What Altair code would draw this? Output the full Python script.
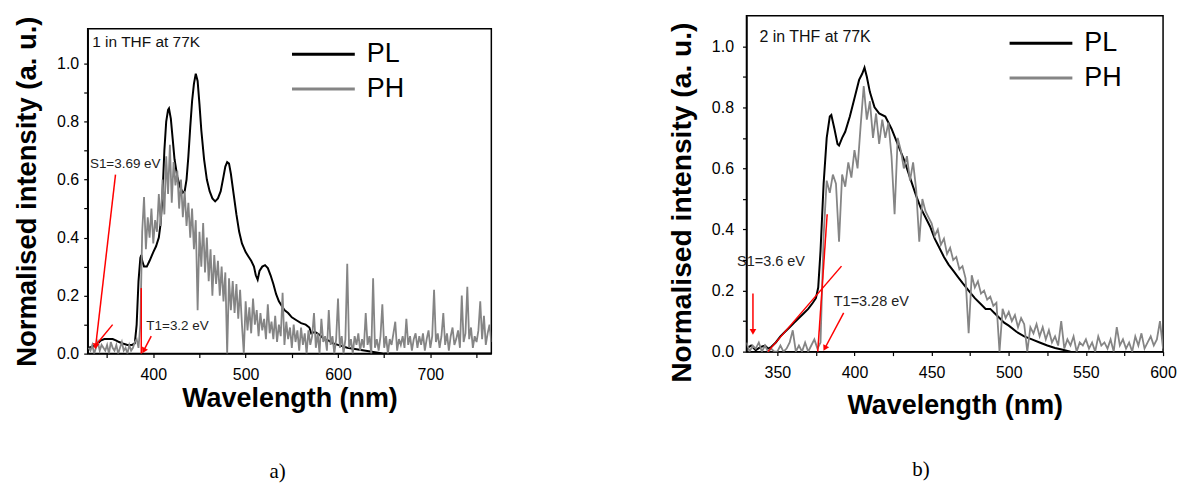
import math
import altair as alt
import pandas as pd

FONT = "Liberation Sans"

# ---------------- Panel a) : 1 in THF at 77K ----------------
A_PL_NM = [330, 335, 340, 343, 347, 352, 356, 360, 363, 367, 372, 377, 380, 382, 384, 386, 387, 388,
           390, 393, 396, 400, 403, 406, 408, 410, 412, 414, 416, 417, 419, 421, 423, 426, 429, 432,
           434, 436, 438, 440, 442, 444, 446, 448, 450, 452, 455, 458, 461, 464, 467, 470, 473, 476,
           478, 480, 482, 484, 487, 490, 493, 496, 500, 503, 506, 509, 511, 513, 515, 518, 521, 524,
           527, 530, 533, 536, 539, 542, 546, 550, 555, 560, 565, 569, 571, 575, 580, 585, 590, 595,
           600, 610, 620, 630, 640, 650, 700, 766]
A_PL_I = [0.02, 0.025, 0.035, 0.045, 0.05, 0.05, 0.05, 0.045, 0.04, 0.035, 0.03, 0.03, 0.035, 0.10,
          0.25, 0.33, 0.34, 0.32, 0.30, 0.30, 0.32, 0.35, 0.37, 0.40, 0.45, 0.55, 0.70, 0.80, 0.84,
          0.845, 0.81, 0.74, 0.67, 0.61, 0.575, 0.555, 0.56, 0.60, 0.68, 0.78, 0.87, 0.93, 0.965, 0.94,
          0.86, 0.77, 0.67, 0.60, 0.56, 0.535, 0.525, 0.535, 0.56, 0.61, 0.645, 0.66, 0.655, 0.62,
          0.55, 0.48, 0.42, 0.38, 0.35, 0.335, 0.32, 0.30, 0.27, 0.255, 0.285, 0.30, 0.305, 0.295,
          0.27, 0.24, 0.205, 0.18, 0.165, 0.15, 0.14, 0.125, 0.115, 0.105, 0.10, 0.09, 0.07, 0.075,
          0.065, 0.05, 0.045, 0.035, 0.03, 0.02, 0.015, 0.01, 0.005, 0.0, 0.0, 0.0]

A_PH_NM = list(range(330, 767, 2))
A_PH_I = [
    0.02, 0.01, 0.03, 0.0, 0.02, 0.04, 0.01, 0.03, 0.02, 0.01,
    0.03, 0.0, 0.04, 0.02, 0.01, 0.03, 0.0, 0.02, 0.04, 0.01,
    0.02, 0.0, 0.03, 0.01, 0.02, 0.04, 0.05, 0.02, 0.10, 0.42,
    0.54, 0.36, 0.47, 0.40, 0.50, 0.38, 0.46, 0.42, 0.55, 0.44,
    0.60, 0.48, 0.68, 0.55, 0.72, 0.52, 0.66, 0.58, 0.63, 0.50,
    0.60, 0.47, 0.56, 0.44, 0.52, 0.40, 0.50, 0.36, 0.46, 0.15,
    0.42, 0.30, 0.45, 0.28, 0.40, 0.25, 0.36, 0.20, 0.34, 0.24,
    0.32, 0.20, 0.30, 0.18, 0.28, 0.0, 0.26, 0.15, 0.25, 0.14,
    0.24, 0.12, 0.22, 0.10, 0.0, 0.18, 0.08, 0.16, 0.07, 0.19,
    0.10, 0.15, 0.06, 0.14, 0.08, 0.12, 0.05, 0.17, 0.07, 0.11,
    0.05, 0.13, 0.04, 0.10, 0.06, 0.21, 0.03, 0.11, 0.05, 0.09,
    0.02, 0.10, 0.04, 0.08, 0.01, 0.09, 0.03, 0.07, 0.0, 0.08,
    0.03, 0.06, 0.14, 0.02, 0.07, 0.0, 0.12, 0.04, 0.06, 0.01,
    0.15, 0.03, 0.06, 0.0, 0.05, 0.19, 0.02, 0.06, 0.0, 0.05,
    0.31, 0.02, 0.05, 0.0, 0.06, 0.03, 0.07, 0.01, 0.05, 0.02,
    0.14, 0.03, 0.06, 0.0, 0.26, 0.02, 0.05, 0.01, 0.06, 0.17,
    0.02, 0.06, 0.0, 0.05, 0.03, 0.07, 0.11, 0.01, 0.05, 0.03,
    0.06, 0.02, 0.12, 0.03, 0.06, 0.01, 0.05, 0.07, 0.02, 0.06,
    0.03, 0.07, 0.01, 0.05, 0.08, 0.02, 0.06, 0.22, 0.04, 0.07,
    0.02, 0.06, 0.14, 0.03, 0.07, 0.01, 0.06, 0.09, 0.03, 0.05,
    0.08, 0.02, 0.20, 0.04, 0.07, 0.23, 0.05, 0.09, 0.02, 0.06,
    0.04, 0.08, 0.18, 0.05, 0.13, 0.03, 0.07, 0.10, 0.04,
]

A_LINE_X = [359.1, 356.0, 387.0, 397.8]
A_LINE_Y = [0.617, 0.10, 0.226, 0.06]
A_LINE_X2 = [337.6, 335.8, 387.0, 389.6]
A_LINE_Y2 = [0.025, 0.022, 0.0, 0.01]
A_HEAD = [True, False, False, True]
A_HEAD_TEXT = ["1 in THF at 77K"]
A_HEAD_X = [333.9]
A_HEAD_Y = [1.075]
A_ANN_TEXT = ["S1=3.69 eV", "T1=3.2 eV"]
A_ANN_X = [331.4, 392.5]
A_ANN_Y = [0.655, 0.094]

# ---------------- Panel b) : 2 in THF at 77K ----------------
B_PL_NM = [330, 333, 336, 339, 342, 344, 346, 349, 352, 355, 358, 361, 364, 367, 370, 373, 375, 376.5,
           378, 380, 382, 384, 385, 387, 389, 390, 392, 394, 397, 400, 403, 405, 406.5, 408, 410, 413,
           416, 420, 424, 428, 432, 436, 440, 443, 446, 449, 452, 455, 458, 461, 464, 467, 470, 474,
           478, 482, 485, 488, 491, 494, 497, 500, 505, 510, 515, 520, 525, 530, 535, 540]
B_PL_I = [0.01, 0.02, 0.005, 0.015, 0.02, 0.01, 0.015, 0.03, 0.05, 0.065, 0.08, 0.095, 0.11, 0.125,
          0.14, 0.16, 0.175, 0.21, 0.33, 0.55, 0.70, 0.77, 0.775, 0.73, 0.68, 0.675, 0.70, 0.72, 0.77,
          0.83, 0.89, 0.91, 0.93, 0.90, 0.85, 0.80, 0.78, 0.77, 0.73, 0.68, 0.63, 0.57, 0.51, 0.47,
          0.44, 0.41, 0.37, 0.34, 0.31, 0.285, 0.265, 0.245, 0.225, 0.20, 0.175, 0.155, 0.14, 0.14,
          0.125, 0.11, 0.095, 0.085, 0.065, 0.05, 0.04, 0.03, 0.02, 0.012, 0.006, 0.0]

B_PH_NM = list(range(330, 601, 2))
B_PH_I = [
    0.03, 0.0, 0.02, 0.01, 0.03, 0.0, 0.02, 0.0, 0.01, 0.0,
    0.0, 0.02, 0.0, 0.01, 0.03, 0.07, 0.0, 0.02, 0.0, 0.03,
    0.0, 0.02, 0.04, 0.01, 0.03, 0.38, 0.56, 0.52, 0.58, 0.55,
    0.36, 0.58, 0.54, 0.62, 0.57, 0.66, 0.60, 0.74, 0.87, 0.76,
    0.82, 0.70, 0.78, 0.68, 0.76, 0.70, 0.75, 0.64, 0.45, 0.70,
    0.66, 0.60, 0.64, 0.56, 0.62, 0.53, 0.36, 0.50, 0.46, 0.44,
    0.42, 0.38, 0.40, 0.35, 0.37, 0.32, 0.34, 0.30, 0.31, 0.27,
    0.28, 0.24, 0.06, 0.25, 0.21, 0.23, 0.19, 0.20, 0.17, 0.18,
    0.15, 0.16, 0.0, 0.14, 0.11, 0.13, 0.10, 0.12, 0.08, 0.11,
    0.09, 0.0, 0.08, 0.06, 0.09, 0.05, 0.08, 0.04, 0.07, 0.03,
    0.05, 0.02, 0.10, 0.01, 0.04, 0.02, 0.05, 0.0, 0.03, 0.02,
    0.04, 0.01, 0.03, 0.0, 0.05, 0.02, 0.03, 0.01, 0.04, 0.0,
    0.08, 0.02, 0.04, 0.01, 0.03, 0.0, 0.05, 0.02, 0.06, 0.01,
    0.03, 0.05, 0.02, 0.04, 0.10, 0.01,
]

B_LINE_X = [343.9, 382.3, 334.2, 393.0]
B_LINE_Y = [0.0, 0.45, 0.19, 0.127]
B_LINE_X2 = [391.6, 376.2, 334.2, 380.8]
B_LINE_Y2 = [0.28, 0.0, 0.065, 0.011]
B_HEAD = [False, False, True, True]
B_HEAD_TEXT = ["2 in THF at 77K"]
B_HEAD_X = [338.4]
B_HEAD_Y = [1.03]
B_ANN_TEXT = ["S1=3.6 eV", "T1=3.28 eV"]
B_ANN_X = [323.9, 386.6]
B_ANN_Y = [0.292, 0.161]

Y_TICKS = [0.0, 0.1, 0.2, 0.3, 0.4, 0.5, 0.6, 0.7, 0.8, 0.9, 1.0]
A_X_TICKS = [350, 400, 450, 500, 550, 600, 650, 700, 750]
B_X_TICKS = [350, 375, 400, 425, 450, 475, 500, 525, 550, 575, 600]

FRAME = alt.ViewBackground(stroke="black", strokeWidth=1.5)


def make_panel(pl_nm, pl_i, ph_nm, ph_i, lx, ly, lx2, ly2, heads,
               head_text, head_x, head_y, ann_text, ann_x, ann_y,
               W, H, xd, yd, xticks, xstep, ylab_pad, xtitle_pad,
               ytitle_size, ytitle_y, leg_x, leg_y, head_size, ann_size,
               sub, sub_dx, sub_off):
    ax_x = alt.Axis(values=xticks,
                    labelExpr=f"datum.value % {xstep} === 0 ? datum.label : ''",
                    title="Wavelength (nm)", titleFont=FONT, titleFontSize=27,
                    titleFontWeight="bold", titleColor="black", titlePadding=xtitle_pad,
                    labelFont=FONT, labelFontSize=16, labelColor="black", labelPadding=9,
                    tickSize=4, tickColor="black", tickWidth=1.2, domainColor="black",
                    domainWidth=1.5, grid=False, labelFlush=False, labelOverlap=False)
    ykw = dict(values=Y_TICKS,
               labelExpr="round(datum.value * 10) % 2 === 0 ? format(datum.value, '.1f') : ''",
               title="Normalised intensity (a. u.)", titleFont=FONT, titleFontSize=ytitle_size,
               titleFontWeight="bold", titleColor="black", titlePadding=15,
               labelFont=FONT, labelFontSize=16, labelColor="black", labelPadding=ylab_pad,
               tickSize=4, tickColor="black", tickWidth=1.2, domainColor="black",
               domainWidth=1.5, grid=False, labelFlush=False, labelOverlap=False)
    if ytitle_y is not None:
        ykw["titleY"] = ytitle_y
    ax_y = alt.Axis(**ykw)

    X = alt.X("nm:Q", scale=alt.Scale(domain=xd, nice=False, zero=False), axis=ax_x)
    Y = alt.Y("I:Q", scale=alt.Scale(domain=yd, nice=False, zero=False), axis=ax_y)
    leg = alt.Legend(orient="none", legendX=leg_x, legendY=leg_y, title=None,
                     symbolType="M-3,0H3", symbolSize=441, symbolStrokeWidth=3,
                     labelFont=FONT, labelFontSize=27, labelColor="black",
                     labelOffset=30, rowPadding=7, padding=0)
    C = alt.Color("series:N", scale=alt.Scale(domain=["PL", "PH"], range=["#000000", "#858585"]),
                  legend=leg)

    df_pl = pd.DataFrame({"nm": pl_nm, "I": pl_i, "series": "PL"})
    df_ph = pd.DataFrame({"nm": ph_nm, "I": ph_i, "series": "PH"})
    pl = alt.Chart(df_pl).mark_line(strokeWidth=2, clip=True).encode(x=X, y=Y, color=C)
    ph = alt.Chart(df_ph).mark_line(strokeWidth=1.8, clip=True).encode(x=X, y=Y, color=C)

    df_r = pd.DataFrame({"nm": lx, "I": ly, "nm2": lx2, "I2": ly2})
    rules = alt.Chart(df_r).mark_rule(color="red", strokeWidth=1.5).encode(
        x=X, y=Y, x2="nm2:Q", y2="I2:Q")

    sx = W / (xd[1] - xd[0])
    sy = H / (yd[1] - yd[0])
    hx, hy, ha = [], [], []
    for a, b, a2, b2, h in zip(lx, ly, lx2, ly2, heads):
        if h:
            dxp = (a2 - a) * sx
            dyp = -(b2 - b) * sy
            ang = math.degrees(math.atan2(dxp, -dyp)) % 360
            hx.append(a2)
            hy.append(b2)
            ha.append(ang)
    df_h = pd.DataFrame({"nm": hx, "I": hy, "ang": ha})
    arrows = alt.Chart(df_h).mark_point(shape="triangle-up", filled=True, color="red",
                                        size=45, opacity=1).encode(
        x=X, y=Y, angle=alt.Angle("ang:Q", scale=None))

    df_t1 = pd.DataFrame({"nm": head_x, "I": head_y, "label": head_text})
    t1 = alt.Chart(df_t1).mark_text(align="left", baseline="middle", font=FONT,
                                    fontSize=head_size, color="#111111").encode(
        x=X, y=Y, text="label:N")
    df_t2 = pd.DataFrame({"nm": ann_x, "I": ann_y, "label": ann_text})
    t2 = alt.Chart(df_t2).mark_text(align="left", baseline="middle", font=FONT,
                                    fontSize=ann_size, color="#222222").encode(
        x=X, y=Y, text="label:N")

    return alt.layer(pl, ph, rules, arrows, t1, t2).properties(
        width=W, height=H, view=FRAME,
        title=alt.TitleParams(text=sub, orient="bottom", anchor="middle", frame="group",
                              dx=sub_dx, offset=sub_off, font="Liberation Serif",
                              fontSize=21, fontWeight="normal", color="black"))


panel_a = make_panel(A_PL_NM, A_PL_I, A_PH_NM, A_PH_I, A_LINE_X, A_LINE_Y, A_LINE_X2, A_LINE_Y2,
                     A_HEAD, A_HEAD_TEXT, A_HEAD_X, A_HEAD_Y, A_ANN_TEXT, A_ANN_X, A_ANN_Y,
                     W=405, H=326, xd=[329, 766], yd=[0, 1.12], xticks=A_X_TICKS, xstep=100,
                     ylab_pad=5, xtitle_pad=3, ytitle_size=27.5, ytitle_y=None,
                     leg_x=223, leg_y=25, head_size=15.5, ann_size=13.5,
                     sub="a)", sub_dx=-12, sub_off=50)

panel_b = make_panel(B_PL_NM, B_PL_I, B_PH_NM, B_PH_I, B_LINE_X, B_LINE_Y, B_LINE_X2, B_LINE_Y2,
                     B_HEAD, B_HEAD_TEXT, B_HEAD_X, B_HEAD_Y, B_ANN_TEXT, B_ANN_X, B_ANN_Y,
                     W=418, H=337, xd=[330, 600], yd=[0, 1.1], xticks=B_X_TICKS, xstep=50,
                     ylab_pad=9, xtitle_pad=12, ytitle_size=28.3, ytitle_y=187,
                     leg_x=282, leg_y=14, head_size=16, ann_size=14.5,
                     sub="b)", sub_dx=-34, sub_off=41)

# invisible strip that lowers panel a) relative to panel b), as in the original figure
spacer = alt.Chart(pd.DataFrame({"v": [0.0]})).mark_point(opacity=0).encode(
    x=alt.X("v:Q", axis=None), y=alt.Y("v:Q", axis=None)).properties(
    width=405, height=13, view=alt.ViewBackground(stroke="transparent"))

left = alt.vconcat(spacer, panel_a, spacing=0, bounds="flush")

chart = alt.hconcat(left, panel_b, spacing=175).resolve_scale(
    color="independent").resolve_legend(color="independent").properties(
    padding={"left": 13, "top": 14, "right": 2, "bottom": 0},
    background="white")

chart.save("out.html", embed_options={"renderer": "svg", "actions": False})
